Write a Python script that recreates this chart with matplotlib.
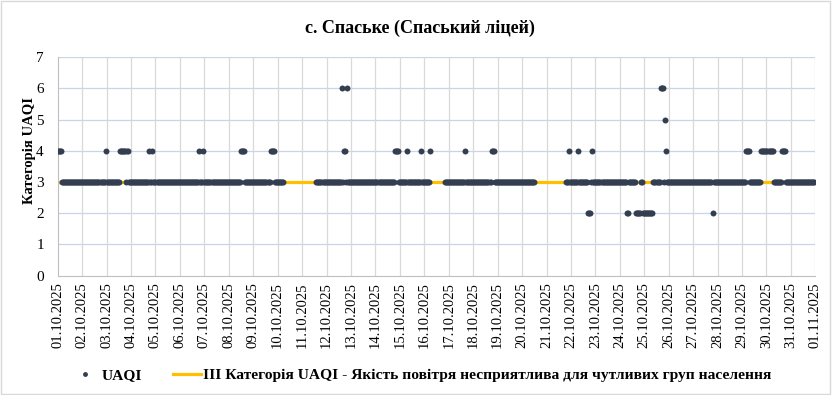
import numpy as np
import pandas as pd
import matplotlib
matplotlib.use("Agg")
import matplotlib.pyplot as plt
from matplotlib.lines import Line2D
from matplotlib.patches import Rectangle

# hourly UAQI category, 01.10.2025 00:00 .. 31.10.2025 23:00
n_hours = 744
base_value = 3
missing_ranges = [(222, 253), (367, 379), (469, 498)]
hours_cat2 = [521, 522, 523, 559, 560, 568, 569, 570, 571, 572,
              575, 576, 577, 578, 579, 580, 581, 582, 583, 584, 643]
hours_cat4 = [0, 1, 2, 3, 47, 61, 62, 63, 64, 65, 66, 68, 69, 90, 93,
              139, 143, 180, 181, 182, 183, 209, 210, 211, 212, 281, 282,
              331, 332, 333, 334, 343, 357, 366, 400, 426, 427, 428,
              502, 511, 525, 597, 676, 677, 678, 679,
              691, 692, 693, 694, 695, 696, 697, 698, 699, 700, 701, 702,
              711, 712, 713, 714]
hours_cat5 = [596]
hours_cat6 = [279, 284, 592, 593, 594]
threshold = 3
tick_labels = [d.strftime("%d.%m.%Y") for d in pd.date_range("2025-10-01", "2025-11-01", freq="D")]

uaqi = np.full(n_hours, float(base_value))
for a, b in missing_ranges:
    uaqi[a:b + 1] = np.nan
uaqi[hours_cat2] = 2
uaqi[hours_cat4] = 4
uaqi[hours_cat5] = 5
uaqi[hours_cat6] = 6
t = np.arange(n_hours) / 24.0

plt.rcParams['font.family'] = ['Liberation Serif', 'DejaVu Serif']

fig = plt.figure(figsize=(8.32, 3.95), dpi=100)
ax = fig.add_axes([0.0694, 0.3025, 0.9106, 0.5527])

ax.plot([0, 31], [threshold, threshold], color='#FFC000', lw=2.3, zorder=2,
        solid_capstyle='butt')
ax.plot(t, uaqi, 'o', color='#333F50', ms=4.3, mew=0, zorder=3)

ax.set_xlim(0, 31)
ax.set_ylim(0, 7)
ax.set_yticks(range(8))
ax.set_xticks(range(32))
ax.set_xticklabels(tick_labels, rotation=90, fontsize=10.5)
ax.tick_params(axis='y', labelsize=11, length=0, pad=10)
ax.tick_params(axis='x', length=0, pad=5)

for y in range(1, 8):
    ax.axhline(y, color='#C9D4E8', lw=0.9, zorder=1)
for x in range(1, 32):
    ax.axvline(x, color='#D9D9D9', lw=0.9, zorder=1)
for s in ['top', 'right']:
    ax.spines[s].set_visible(False)
ax.spines['left'].set_color('#BFBFBF')
ax.spines['bottom'].set_color('#BFBFBF')

fig.text(29 / 832, 1 - 150 / 395, "Категорія UAQI", rotation=90, ha='center', va='center',
         fontsize=10.5, fontweight='bold')
fig.text(0.505, 0.928, "с. Спаське (Спаський ліцей)", ha='center', va='center',
         fontsize=13, fontweight='bold')

handles = [Line2D([], [], ls='none', marker='o', color='#333F50', ms=3.5, mew=0),
           Line2D([], [], color='#FFC000', lw=2.3)]
labels = ["UAQI", "ІІІ Категорія UAQI - Якість повітря несприятлива для чутливих груп населення"]
fig.legend(handles, labels, loc='center left', bbox_to_anchor=(0.086, 0.05), ncol=2,
           frameon=False, prop={'weight': 'bold', 'size': 11.15},
           borderpad=0, borderaxespad=0,
           handlelength=1.8, handletextpad=0.15, columnspacing=2.0)

fig.add_artist(Rectangle((0.001, 0.002), 0.997, 0.995, transform=fig.transFigure,
                         fill=False, ec='#D9D9D9', lw=1))

fig.savefig("out.png", dpi=100)
